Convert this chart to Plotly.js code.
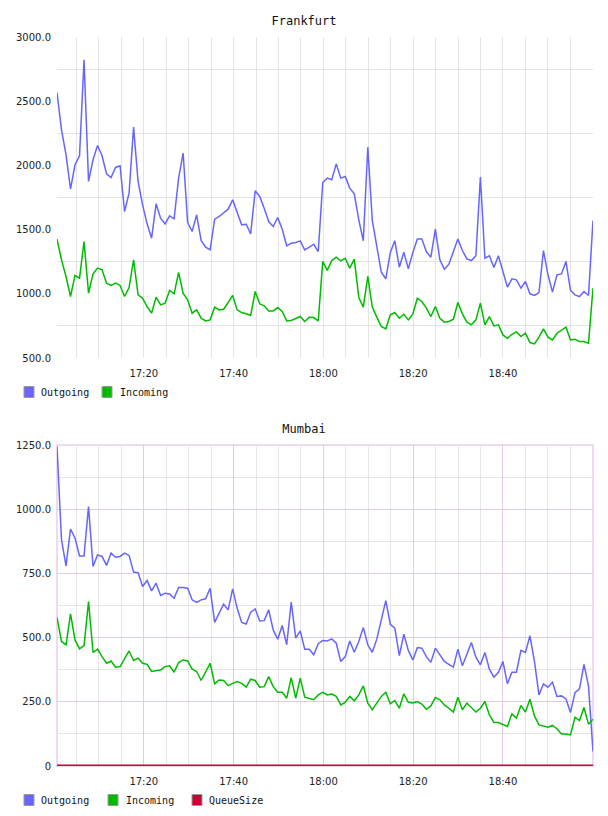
<!DOCTYPE html>
<html>
<head>
<meta charset="utf-8">
<script src="https://cdn.plot.ly/plotly-3.0.1.min.js"></script>
<style>
html,body{margin:0;padding:0;background:#fff;}
.chart{width:608px;height:408px;}
</style>
</head>
<body>
<div id="c1" class="chart"></div>
<div id="c2" class="chart"></div>
<script>
// ---- data ----
const startTime = '17:00:40';
const stepSeconds = 60.2;
const pointCount = 120;
const xTickTimes = ['17:20','17:40','18:00','18:20','18:40'];

const frankfurtOutgoing = [2568,2277,2083,1815,2005,2075,2823,1875,2044,2155,
2075,1935,1906,1984,1997,1641,1784,2298,1875,1693,
1545,1433,1701,1589,1545,1607,1584,1901,2096,1555,
1485,1615,1415,1363,1342,1581,1602,1628,1659,1732,
1641,1537,1542,1467,1802,1758,1667,1563,1524,1594,
1503,1374,1394,1400,1412,1342,1363,1386,1329,1867,
1901,1888,2012,1901,1914,1823,1779,1576,1413,2142,
1571,1381,1168,1117,1322,1413,1207,1324,1194,1322,
1426,1426,1329,1285,1503,1264,1192,1231,1322,1426,
1337,1272,1259,1296,1909,1277,1296,1205,1296,1182,
1052,1117,1109,1044,1096,1000,987,1010,1337,1148,
1013,1148,1155,1252,1026,992,979,1018,987,1571];

const frankfurtIncoming = [1426,1264,1135,979,1143,1122,1407,1005,1155,1200,
1187,1083,1065,1083,1065,979,1049,1264,992,966,
901,849,974,914,927,1026,1000,1166,1005,953,
849,875,810,789,797,896,875,880,932,987,
875,854,844,831,1018,922,906,867,867,893,
862,789,792,807,823,784,818,815,789,1252,
1182,1259,1285,1257,1277,1200,1270,971,896,1135,
896,818,745,727,836,854,810,841,797,844,
966,940,888,823,901,810,779,784,802,932,
844,779,758,797,927,758,823,750,758,680,
654,685,703,667,693,620,610,662,727,662,
641,693,719,740,641,646,628,628,615,1044];

const mumbaiOutgoing = [1245,881,779,923,887,818,818,1010,777,822,
816,781,829,813,816,829,820,755,753,699,
722,682,712,664,673,670,653,695,695,692,
647,637,647,651,692,559,595,630,608,690,
614,559,553,599,612,565,566,608,530,494,
547,472,638,498,526,455,455,433,476,489,
487,495,478,407,426,487,443,485,539,472,
443,494,569,644,552,537,430,513,450,413,
461,459,426,404,459,433,407,396,385,455,
390,435,481,424,394,442,377,346,365,407,
320,365,365,450,442,507,407,277,320,307,
326,271,273,261,208,286,300,396,312,56];

const mumbaiIncoming = [578,485,472,592,491,456,469,640,442,455,
426,400,409,385,387,417,448,411,420,400,
396,368,372,374,387,390,365,403,413,409,
377,368,333,365,400,320,335,333,313,322,
329,322,307,338,333,307,309,348,309,287,
287,264,344,264,342,268,264,258,277,287,
277,280,271,238,248,271,254,277,312,245,
219,245,271,287,242,255,225,281,248,245,
251,241,221,234,267,258,238,225,210,268,
219,245,229,210,225,251,199,169,169,163,
154,203,186,236,210,260,195,160,156,151,
158,145,125,125,121,190,177,228,163,182];

const mumbaiQueue = [0,0,0,0,0,0,0,0,2,2,
2,2,2,2,2,2,2,2,2,0,
0,0,0,0,0,0,0,0,0,0,
0,0,0,0,0,0,0,0,0,0,
0,0,0,0,0,0,0,0,0,0,
0,0,0,0,0,0,0,0,0,0,
0,0,0,0,0,0,0,0,0,0,
0,0,0,0,0,0,0,0,0,0,
0,0,0,0,0,0,0,0,0,0,
0,0,0,0,0,0,0,0,0,0,
0,0,0,0,0,0,0,0,0,0,
0,0,0,0,0,0,0,0,0,0];

const frankfurtYTicks = [500,1000,1500,2000,2500,3000];
const frankfurtYLabels = ['500.0','1000.0','1500.0','2000.0','2500.0','3000.0'];
const frankfurtYMinor = [750,1250,1750,2250,2750];
const mumbaiYTicks = [0,250,500,750,1000,1250];
const mumbaiYLabels = ['0','250.0','500.0','750.0','1000.0','1250.0'];
const mumbaiYMinor = [125,375,625,875,1125];

// ---- time axis ----
const toMs = s => { const p = s.split(':').map(Number); return Date.UTC(2024,0,1,p[0],p[1],p[2]||0); };
const t0 = toMs(startTime);
const times = [];
for (let i = 0; i < pointCount; i++) times.push(t0 + i*stepSeconds*1000);
const hourBase = toMs('17:00');
const xTickVals = xTickTimes.map(toMs);

// ---- geometry ----
const W = 608, H = 408, ML = 57, MR = 15, MT = 37, MB = 50;
const PW = W-ML-MR, PH = H-MT-MB;
const px = x => (x-ML)/PW;
const py = y => (H-MB-y)/PH;

const C_OUT = '#6666ff', C_IN = '#00bb00', C_Q = '#cc0033';

function legendParts(items, yc) {
  const shapes = [], ann = [];
  items.forEach(it => {
    shapes.push({type:'rect', xref:'paper', yref:'paper',
      x0:px(it.sx), x1:px(it.sx+10), y0:py(yc+5.5), y1:py(yc-5.5),
      fillcolor:it.color, line:{color:'#999', width:1}});
    ann.push({xref:'paper', yref:'paper', x:px(it.tx), y:py(yc),
      xanchor:'left', yanchor:'middle', showarrow:false, text:it.name,
      font:{family:'DejaVu Sans Mono', size:10, color:'#111'}});
  });
  return {shapes, ann};
}

function baseLayout(title, yrange, ytv, ytt, yminor, majorGrid, minorGrid) {
  return {
    width: W, height: H,
    margin: {l:ML, r:MR, t:MT, b:MB, pad:0},
    paper_bgcolor:'#fff', plot_bgcolor:'#fff',
    showlegend:false,
    title:{text:title, x:0.5, xref:'container', xanchor:'center',
      y:1-20.5/H, yref:'container', yanchor:'middle',
      font:{family:'DejaVu Sans Mono', size:12, color:'#111'}},
    xaxis:{type:'date', range:[times[0], times[times.length-1]],
      tickmode:'array', tickvals:xTickVals, tickformat:'%H:%M',
      showgrid:true, gridcolor:majorGrid, gridwidth:1,
      minor:{tick0:hourBase, dtick:5*60000, showgrid:true, gridcolor:minorGrid, gridwidth:1},
      zeroline:false, showline:false, ticks:'', ticklabelstandoff:8,
      tickfont:{family:'DejaVu Sans', size:10, color:'#222'}},
    yaxis:{range:yrange, tickmode:'array', tickvals:ytv, ticktext:ytt,
      showgrid:true, gridcolor:majorGrid, gridwidth:1,
      minor:{tickmode:'array', tickvals:yminor, showgrid:true, gridcolor:minorGrid, gridwidth:1},
      zeroline:false, showline:false, ticks:'', ticklabelstandoff:5,
      tickfont:{family:'DejaVu Sans', size:10, color:'#222'}},
    hovermode:false
  };
}

// ---- Frankfurt ----
const l1 = baseLayout('Frankfurt', [500,3000], frankfurtYTicks, frankfurtYLabels, frankfurtYMinor, '#e4e4e4', '#e4e4e4');
l1.yaxis.showgrid = false;
const lg1 = legendParts([
  {name:'Outgoing', color:C_OUT, sx:24, tx:39},
  {name:'Incoming', color:C_IN, sx:102, tx:118}
], 392);
l1.shapes = lg1.shapes; l1.annotations = lg1.ann;

Plotly.newPlot('c1', [
  {x:times, y:frankfurtOutgoing, name:'Outgoing', type:'scatter', mode:'lines', line:{color:C_OUT, width:1.5}},
  {x:times, y:frankfurtIncoming, name:'Incoming', type:'scatter', mode:'lines', line:{color:C_IN, width:1.5}}
], l1, {staticPlot:true});

// ---- Mumbai ----
const l2 = baseLayout('Mumbai', [0,1250], mumbaiYTicks, mumbaiYLabels, mumbaiYMinor, '#e2cce2', '#e6e6e6');
const lg2 = legendParts([
  {name:'Outgoing', color:C_OUT, sx:24, tx:39},
  {name:'Incoming', color:C_IN, sx:108, tx:124},
  {name:'QueueSize', color:C_Q, sx:192, tx:207}
], 392);
l2.shapes = [{type:'rect', xref:'paper', yref:'paper', x0:0, x1:1, y0:0, y1:1,
  line:{color:'#eedcee', width:2}, fillcolor:'rgba(0,0,0,0)', layer:'below'}].concat(lg2.shapes);
l2.annotations = lg2.ann;

Plotly.newPlot('c2', [
  {x:times, y:mumbaiOutgoing, name:'Outgoing', type:'scatter', mode:'lines', line:{color:C_OUT, width:1.5}},
  {x:times, y:mumbaiIncoming, name:'Incoming', type:'scatter', mode:'lines', line:{color:C_IN, width:1.5}},
  {x:times, y:mumbaiQueue, name:'QueueSize', type:'scatter', mode:'lines', line:{color:C_Q, width:3}}
], l2, {staticPlot:true});
</script>
</body>
</html>
